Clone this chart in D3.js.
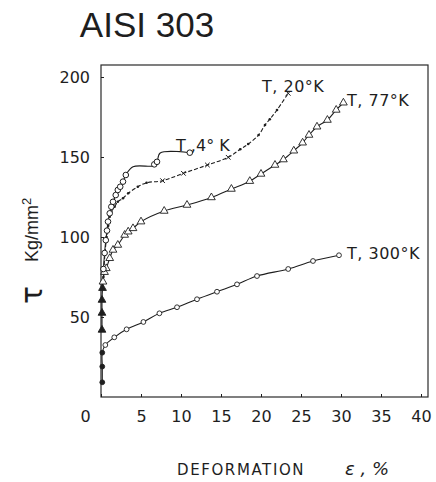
<!DOCTYPE html>
<html>
<head>
<meta charset="utf-8">
<script src="https://cdn.jsdelivr.net/npm/d3@7"></script>
<style>
body { margin: 0; background: #fff; }
text { fill: #1e1e1e; }
</style>
</head>
<body>
<div id="graphics"></div>
<script>
// tick values
const xTicks = [0, 5, 10, 15, 20, 25, 30, 35, 40];
const yTicks = [50, 100, 150, 200];

// curves: [deformation %, tau kg/mm2]
const t4K = [[0.3, 80], [0.45, 90], [0.6, 98], [0.75, 104], [0.875, 109.6], [1.09, 114.8], [1.29, 118.9],
  [1.5, 122], [1.84, 126.2], [2.1, 129.4], [2.4, 131.4], [2.75, 134.6], [3.1, 138.75], [4.0, 143.9],
  [6.5, 144.4], [6.66, 145.4], [7.0, 147], [7.4, 152.5], [11.1, 152.7]];
// circles on the 4K curve (the step corners have none)
const t4KMarks = [[0.3, 80], [0.45, 90], [0.6, 98], [0.75, 104], [0.875, 109.6], [1.09, 114.8], [1.29, 118.9],
  [1.5, 122], [1.84, 126.2], [2.1, 129.4], [2.4, 131.4], [2.75, 134.6], [3.1, 138.75],
  [6.66, 145.4], [7.0, 147], [11.1, 152.7]];

const t20K = [[0.3, 75], [0.5, 90], [0.7, 100], [0.9, 107], [1.09, 112.7], [1.29, 115.8], [1.7, 118.9],
  [2.1, 122], [2.75, 124.2], [3.4, 127.3], [4.6, 131.4], [5.7, 133.9], [7.7, 135.2], [10.3, 139.8],
  [13.3, 145], [15.9, 149.8], [17.4, 154.8], [18.4, 158.1], [19.7, 163.75], [20.5, 170], [21.1, 173.6],
  [22.0, 179.4], [23.4, 189.8]];
const t20KCross = [[7.7, 135.2], [10.3, 139.8], [13.3, 145], [15.9, 149.8], [23.4, 189.8]];

const t77K = [[0.125, 41.9], [0.125, 52.5], [0.125, 60.6], [0.19, 68], [0.25, 72], [0.44, 78], [0.66, 80.4],
  [1.09, 86.7], [1.5, 91.9], [2.1, 95], [2.96, 101.25], [3.4, 103.3], [4.0, 105.4], [5.0, 109.6],
  [7.9, 116.25], [10.75, 120], [13.8, 124.7], [16.3, 130], [18.6, 134.9], [20.0, 139.4], [21.75, 145],
  [22.8, 148.4], [24.1, 153.9], [25.2, 158.9], [26.0, 163.75], [27.0, 168.9], [28.3, 173.1],
  [29.4, 179.4], [30.3, 183.9]];

const t300K = [[0.16, 9.2], [0.16, 19], [0.16, 27.7], [0.54, 32.5], [1.66, 37.3], [3.2, 42.3], [5.3, 46.9],
  [7.3, 52.3], [9.5, 56.1], [12.0, 61.1], [14.5, 65.8], [17.0, 70.4], [19.5, 75.6], [23.4, 80],
  [26.5, 85], [29.75, 88.6]];

const margin = { top: 65, left: 101, right: 8, bottom: 85 };
const width = 436 - margin.left - margin.right;
const height = 482 - margin.top - margin.bottom;
const ink = '#1e1e1e';

const root = d3.select('#graphics')
  .append('svg')
  .attr('width', 436)
  .attr('height', 482);

const svg = root.append('g')
  .attr('transform', 'translate(' + margin.left + ',' + margin.top + ')');

// Scales
const xPositionScale = d3.scaleLinear().domain([0, width / 8]).range([0, width]);
const yPositionScale = d3.scaleLinear().domain([0, height / 1.6]).range([height, 0]);

const line = d3.line()
  .x((d) => xPositionScale(d[0]))
  .y((d) => yPositionScale(d[1]))
  .curve(d3.curveCatmullRom.alpha(0.5));

// title
root.append('text')
  .text('AISI 303')
  .attr('x', 147)
  .attr('y', 37)
  .attr('text-anchor', 'middle')
  .attr('font-family', 'Liberation Sans, Arial, sans-serif')
  .attr('font-size', 35);

// frame
svg.append('rect')
  .attr('width', width)
  .attr('height', height)
  .attr('fill', 'none')
  .attr('stroke', '#2a2a2a')
  .attr('stroke-width', 1.2);

// axes
const xAxis = svg.append('g')
  .attr('transform', 'translate(0,' + height + ')')
  .call(d3.axisBottom(xPositionScale).tickValues(xTicks).tickSizeInner(-3).tickSizeOuter(0).tickPadding(14));
const yAxis = svg.append('g')
  .call(d3.axisLeft(yPositionScale).tickValues(yTicks).tickSizeInner(-3).tickSizeOuter(0).tickPadding(11));

[xAxis, yAxis].forEach((a) => {
  a.select('.domain').remove();
  a.selectAll('line').attr('stroke', ink);
  a.selectAll('text')
    .attr('font-family', 'DejaVu Sans, sans-serif')
    .attr('font-size', 16)
    .attr('fill', ink);
});
// the origin label sits left of the axis
xAxis.selectAll('.tick').filter((d) => d === 0).select('text').attr('x', -16);

// lines
svg.append('path').datum(t300K).attr('d', line)
  .attr('fill', 'none').attr('stroke', ink).attr('stroke-width', 1.1);
svg.append('path').datum(t77K).attr('d', line)
  .attr('fill', 'none').attr('stroke', ink).attr('stroke-width', 1.1);
svg.append('path').datum(t20K).attr('d', line)
  .attr('fill', 'none').attr('stroke', ink).attr('stroke-width', 1.1).attr('stroke-dasharray', '4,2');
svg.append('path').datum(t4K).attr('d', line)
  .attr('fill', 'none').attr('stroke', ink).attr('stroke-width', 1.1);

// markers
svg.selectAll('.m300').data(t300K).join('circle')
  .attr('class', 'm300')
  .attr('cx', (d) => xPositionScale(d[0]))
  .attr('cy', (d) => yPositionScale(d[1]))
  .attr('r', 2.4)
  .attr('fill', (d, i) => i < 3 ? ink : '#fff')
  .attr('stroke', ink).attr('stroke-width', 0.9);

svg.selectAll('.m77').data(t77K).join('path')
  .attr('class', 'm77')
  .attr('transform', (d) => 'translate(' + xPositionScale(d[0]) + ',' + yPositionScale(d[1]) + ')')
  .attr('d', d3.symbol(d3.symbolTriangle, 26))
  .attr('fill', (d, i) => i < 4 ? ink : '#fff')
  .attr('stroke', ink).attr('stroke-width', 0.9);

const crossKeys = new Set(t20KCross.map((d) => d[0]));
svg.selectAll('.m20').data(t20K.filter((d) => !crossKeys.has(d[0]))).join('circle')
  .attr('class', 'm20')
  .attr('cx', (d) => xPositionScale(d[0]))
  .attr('cy', (d) => yPositionScale(d[1]))
  .attr('r', 1.3)
  .attr('fill', ink);
svg.selectAll('.m20x').data(t20KCross).join('path')
  .attr('class', 'm20x')
  .attr('transform', (d) => 'translate(' + xPositionScale(d[0]) + ',' + yPositionScale(d[1]) + ')')
  .attr('d', d3.symbol(d3.symbolTimes, 16))
  .attr('fill', 'none')
  .attr('stroke', ink).attr('stroke-width', 1);

svg.selectAll('.m4').data(t4KMarks).join('circle')
  .attr('class', 'm4')
  .attr('cx', (d) => xPositionScale(d[0]))
  .attr('cy', (d) => yPositionScale(d[1]))
  .attr('r', 2.8)
  .attr('fill', '#fff')
  .attr('stroke', ink).attr('stroke-width', 1);

// curve labels
const labelFont = 'DejaVu Sans, sans-serif';
[
  ['T, 20°K', 262, 92],
  ['T, 77°K', 347, 106],
  ['T, 300°K', 347, 259]
].forEach((l) => {
  root.append('text')
    .text(l[0])
    .attr('x', l[1])
    .attr('y', l[2])
    .attr('font-family', labelFont)
    .attr('font-size', 16)
    .attr('letter-spacing', 0.5);
});
root.append('text')
  .text('T ,4° K')
  .attr('x', 176)
  .attr('y', 151)
  .attr('font-family', labelFont)
  .attr('font-size', 16);

// axis titles
root.append('text')
  .text('DEFORMATION')
  .attr('x', 177)
  .attr('y', 475)
  .attr('font-family', labelFont)
  .attr('font-size', 15)
  .attr('letter-spacing', 1.6);
root.append('text')
  .text('ε , %')
  .attr('x', 345)
  .attr('y', 475)
  .attr('font-family', labelFont)
  .attr('font-size', 18)
  .attr('font-style', 'italic');

const yLab = root.append('text')
  .attr('transform', 'translate(38,262) rotate(-90)')
  .attr('font-family', 'Liberation Sans, Arial, sans-serif')
  .attr('font-size', 18);
yLab.append('tspan').text('Kg/mm');
yLab.append('tspan').text('2').attr('font-size', 13).attr('dy', -7);

root.append('text')
  .text('τ')
  .attr('transform', 'translate(42,304) rotate(-90)')
  .attr('font-family', labelFont)
  .attr('font-size', 30);
</script>
</body>
</html>
